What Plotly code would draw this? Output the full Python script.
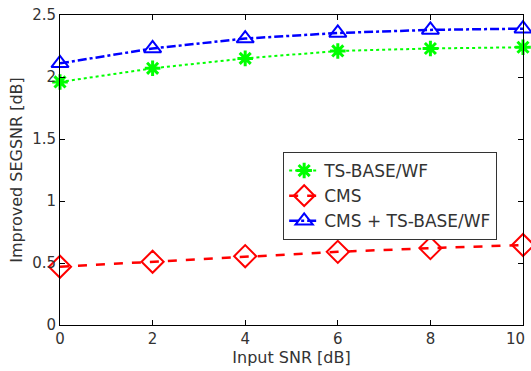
import plotly.graph_objects as go

snr = [0, 2, 4, 6, 8, 10]
ts_base_wf = [1.96, 2.07, 2.15, 2.21, 2.23, 2.24]
cms = [0.47, 0.51, 0.555, 0.59, 0.62, 0.645]
cms_ts = [2.11, 2.23, 2.31, 2.355, 2.38, 2.39]
x_ticks = [0, 2, 4, 6, 8, 10]
y_ticks = [0, 0.5, 1, 1.5, 2, 2.5]

font = "DejaVu Sans, sans-serif"
txt = "#333333"

fig = go.Figure()
fig.add_trace(go.Scatter(
    x=snr, y=ts_base_wf, name="TS-BASE/WF", mode="lines+markers",
    line=dict(color="#00ff00", width=2, dash="dot"),
    marker=dict(symbol="asterisk", size=13, color="#00ff00",
                line=dict(color="#00ff00", width=3)),
    cliponaxis=False))
fig.add_trace(go.Scatter(
    x=snr, y=cms, name="CMS", mode="lines+markers",
    line=dict(color="#ff0000", width=2.5, dash="dash"),
    marker=dict(symbol="diamond-open", size=17, color="#ff0000",
                line=dict(color="#ff0000", width=2)),
    cliponaxis=False))
fig.add_trace(go.Scatter(
    x=snr, y=cms_ts, name="CMS + TS-BASE/WF", mode="lines+markers",
    line=dict(color="#0000ff", width=2.5, dash="dashdot"),
    marker=dict(symbol="triangle-up-open", size=15, color="#0000ff",
                line=dict(color="#0000ff", width=2)),
    cliponaxis=False))

axis_common = dict(showgrid=False, zeroline=False, showline=True, linecolor="black",
                   linewidth=1, mirror="ticks", ticks="inside", ticklen=5,
                   tickcolor="black", ticklabeloverflow="allow", automargin=False,
                   tickfont=dict(size=15, color=txt, family=font))

# last x tick label is drawn as an annotation so it stays inside the page
x_ticktext = [str(v) for v in x_ticks[:-1]] + [""]

fig.update_layout(
    width=531, height=371,
    margin=dict(l=60, r=8, t=15, b=46),
    paper_bgcolor="white", plot_bgcolor="white",
    font=dict(family=font, color=txt, size=16),
    showlegend=True,
    legend=dict(x=0.482, y=0.558, xanchor="left", yanchor="top",
                bgcolor="white", bordercolor="#333333", borderwidth=1,
                font=dict(size=17, family=font, color=txt), itemwidth=30,
                tracegroupgap=0),
    xaxis=dict(range=[0, 10], tickvals=x_ticks, ticktext=x_ticktext,
               title=dict(text="Input SNR [dB]", standoff=2, font=dict(size=16)),
               **axis_common),
    yaxis=dict(range=[0, 2.5], tickvals=y_ticks,
               title=dict(text="Improved SEGSNR [dB]", standoff=5, font=dict(size=16)),
               **axis_common),
    annotations=[dict(x=x_ticks[-1], xref="x", y=0, yref="paper",
                      text=str(x_ticks[-1]), showarrow=False,
                      xanchor="right", yanchor="top", xshift=4, yshift=-3,
                      font=dict(size=15, color=txt, family=font))],
)

fig.write_html("out.html", config={"displayModeBar": False},
               post_script="document.body.style.margin='0px';")
